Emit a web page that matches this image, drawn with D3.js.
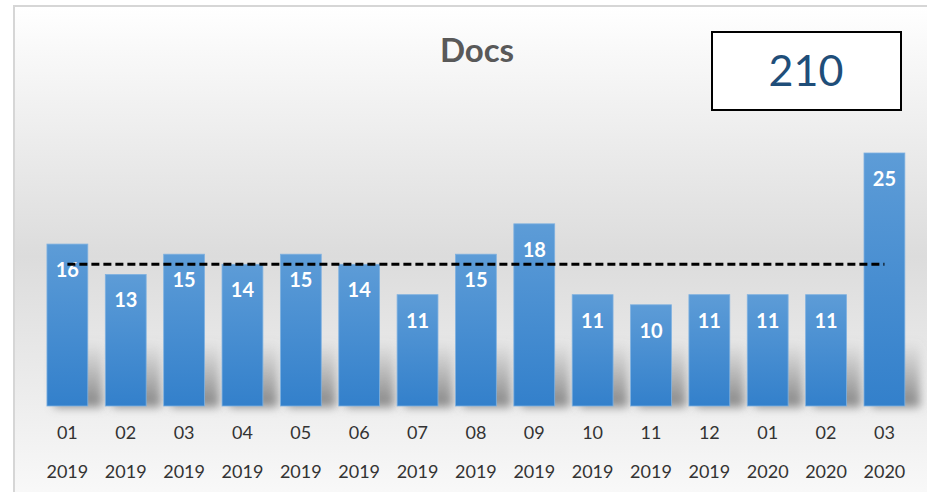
<!DOCTYPE html>
<html lang="en">
<head>
    <meta charset="UTF-8">
    <title>Docs</title>
    <script src="https://cdn.jsdelivr.net/npm/d3@7"></script>
    <style>
        body{
            margin: 0;
            font-family: Lato, sans-serif;
            background: #fff;
        }
    </style>
</head>
<body>
<svg id="main" width="927" height="492"></svg>
<script>

    // data
    const months = ['01','02','03','04','05','06','07','08','09','10','11','12','01','02','03'];
    const years  = ['2019','2019','2019','2019','2019','2019','2019','2019','2019','2019','2019','2019','2020','2020','2020'];
    const docs   = [16, 13, 15, 14, 15, 14, 11, 15, 18, 11, 10, 11, 11, 11, 25];

    const total = d3.sum(docs);
    const avg = d3.mean(docs);

    const svg = d3.select('svg#main');
    const defs = svg.append('defs');

    // background gradient: white -> grey -> light
    const bg = defs.append('linearGradient').attr('id', 'bg')
        .attr('x1', 0).attr('y1', 0).attr('x2', 0).attr('y2', 1);
    bg.append('stop').attr('offset', '0%').attr('stop-color', '#ffffff');
    bg.append('stop').attr('offset', '50%').attr('stop-color', '#dcdcdc');
    bg.append('stop').attr('offset', '100%').attr('stop-color', '#fafafa');

    // bar gradient
    const bg2 = defs.append('linearGradient').attr('id', 'barFill')
        .attr('x1', 0).attr('y1', 0).attr('x2', 0).attr('y2', 1);
    bg2.append('stop').attr('offset', '0%').attr('stop-color', '#5d9cd7');
    bg2.append('stop').attr('offset', '100%').attr('stop-color', '#3380cb');

    // shadow fades upward
    const sh = defs.append('linearGradient').attr('id', 'shadowFill')
        .attr('x1', 0).attr('y1', 0).attr('x2', 0).attr('y2', 1);
    sh.append('stop').attr('offset', '0%').attr('stop-color', '#7a7a7a').attr('stop-opacity', 0);
    sh.append('stop').attr('offset', '100%').attr('stop-color', '#7a7a7a').attr('stop-opacity', 0.9);

    defs.append('filter').attr('id', 'blur')
        .attr('x', '-50%').attr('y', '-50%').attr('width', '200%').attr('height', '200%')
        .append('feGaussianBlur').attr('stdDeviation', 5);

    // chart area
    svg.append('rect')
        .attr('x', 14).attr('y', 6)
        .attr('width', 930).attr('height', 500)
        .attr('fill', 'url(#bg)')
        .attr('stroke', '#d6d6d6')
        .attr('stroke-width', 2);

    // scales
    const x = d3.scaleBand()
        .domain(d3.range(docs.length))
        .range([38.2, 913.6])
        .paddingInner(0.3)
        .paddingOuter(0.15);

    const y = d3.scaleLinear()
        .domain([0, 25])
        .range([406, 153]);

    // title
    svg.append('text')
        .attr('x', 477).attr('y', 62)
        .attr('text-anchor', 'middle')
        .attr('font-size', 33)
        .attr('font-weight', 'bold')
        .attr('fill', '#595959')
        .text('Docs');

    // total box
    svg.append('rect')
        .attr('x', 712).attr('y', 32)
        .attr('width', 189).attr('height', 78)
        .attr('fill', '#fff')
        .attr('stroke', '#000')
        .attr('stroke-width', 2);
    svg.append('text')
        .attr('x', 806).attr('y', 86)
        .attr('text-anchor', 'middle')
        .attr('font-size', 43)
        .attr('fill', '#1f4e79')
        .text(total);

    // shadows behind bars
    svg.append('g').selectAll('rect')
        .data(docs)
        .join('rect')
        .attr('x', (d, i) => x(i) + 7)
        .attr('y', y(0) - 65)
        .attr('width', x.bandwidth() + 8)
        .attr('height', 66)
        .attr('fill', 'url(#shadowFill)')
        .attr('filter', 'url(#blur)');

    // bars
    svg.append('g').selectAll('rect')
        .data(docs)
        .join('rect')
        .attr('x', (d, i) => x(i))
        .attr('y', d => y(d))
        .attr('width', x.bandwidth())
        .attr('height', d => y(0) - y(d))
        .attr('fill', 'url(#barFill)')
        .attr('stroke', '#7fb1e0')
        .attr('stroke-width', 0.8);

    // value labels
    svg.append('g').selectAll('text')
        .data(docs)
        .join('text')
        .attr('x', (d, i) => x(i) + x.bandwidth() / 2)
        .attr('y', d => y(d) + 33)
        .attr('text-anchor', 'middle')
        .attr('font-size', 20)
        .attr('font-weight', 'bold')
        .attr('fill', '#fff')
        .text(d => d);

    // average line
    const line = d3.line()
        .x((d, i) => x(i) + x.bandwidth() / 2)
        .y(() => y(avg));
    svg.append('path')
        .datum(docs)
        .attr('d', line)
        .attr('fill', 'none')
        .attr('stroke', '#000')
        .attr('stroke-width', 3)
        .attr('stroke-dasharray', '8,4');

    // category labels (month / year)
    const cats = svg.append('g').attr('font-size', 18).attr('fill', '#333');
    cats.selectAll('.m')
        .data(months)
        .join('text')
        .attr('class', 'm')
        .attr('x', (d, i) => x(i) + x.bandwidth() / 2)
        .attr('y', 439)
        .attr('text-anchor', 'middle')
        .text(d => d);
    cats.selectAll('.yr')
        .data(years)
        .join('text')
        .attr('class', 'yr')
        .attr('x', (d, i) => x(i) + x.bandwidth() / 2)
        .attr('y', 478)
        .attr('text-anchor', 'middle')
        .text(d => d);

</script>
</body>
</html>
